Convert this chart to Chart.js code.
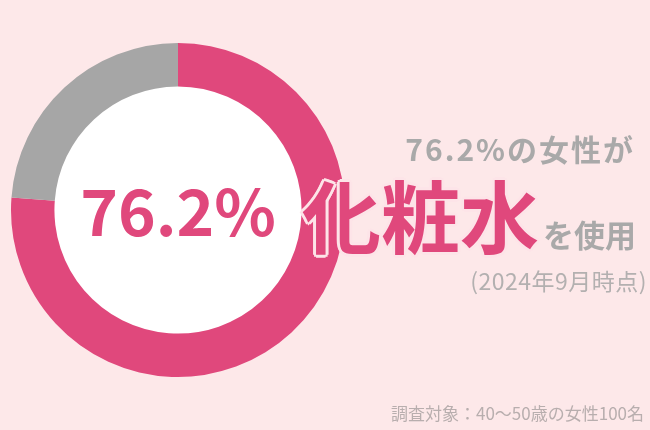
<!DOCTYPE html>
<html><head><meta charset="utf-8">
<script src="https://cdn.jsdelivr.net/npm/chart.js@4"></script>
<style>
html,body{margin:0;padding:0;background:#fde8e9;}
#wrap{position:relative;width:650px;height:430px;overflow:hidden;background:#fde8e9;font-family:"Noto Sans CJK JP","Noto Sans",sans-serif;}
canvas{position:absolute;left:0;top:0;}
.t{position:absolute;white-space:nowrap;}
#center{left:0;width:356px;top:164px;text-align:center;font-weight:700;font-size:64px;line-height:88px;color:#e0487c;}
#l1{right:15px;top:126px;font-weight:700;font-size:30px;line-height:44px;color:#a9a9a9;letter-spacing:2px;}
#l2{left:302px;top:160px;font-weight:700;font-size:79px;line-height:108px;color:#e0487c;
 text-shadow:3px 0 0 #fde4e8,-3px 0 0 #fde4e8,0 3px 0 #fde4e8,0 -3px 0 #fde4e8,2px 2px 0 #fde4e8,-2px 2px 0 #fde4e8,2px -2px 0 #fde4e8,-2px -2px 0 #fde4e8;}
#l3{right:14px;top:211px;font-weight:700;font-size:31px;line-height:46px;color:#a9a9a9;}
#l4{right:3px;top:263px;font-weight:400;font-size:23px;line-height:34px;color:#b3b0b0;letter-spacing:0.5px;}
#foot{right:6px;top:400px;font-weight:400;font-size:17px;line-height:26px;color:#b8aeae;}
</style></head>
<body><div id="wrap">
<canvas id="c" width="650" height="430"></canvas>
<div class="t" id="center"></div>
<div class="t" id="l1">76.2%の女性が</div>
<div class="t" id="l2">化粧水</div>
<div class="t" id="l3">を使用</div>
<div class="t" id="l4">(2024年9月時点)</div>
<div class="t" id="foot">調査対象：40〜50歳の女性100名</div>
</div>
<script>
const categories = ["使用している", "使用していない"];
const values = [76.2, 23.8];
const colors = ["#e0487c", "#a6a6a6"];
document.getElementById('center').textContent = values[0] + '%';

const innerFill = {
  id: 'innerFill',
  beforeDatasetsDraw(chart) {
    const arc = chart.getDatasetMeta(0).data[0];
    if (!arc) return;
    const ctx = chart.ctx;
    ctx.save();
    ctx.beginPath();
    ctx.arc(arc.x, arc.y, arc.innerRadius + 0.5, 0, Math.PI * 2);
    ctx.fillStyle = '#ffffff';
    ctx.fill();
    ctx.restore();
  }
};

new Chart(document.getElementById('c'), {
  type: 'doughnut',
  data: {
    labels: categories,
    datasets: [{ data: values, backgroundColor: colors, borderWidth: 0 }]
  },
  options: {
    responsive: false,
    animation: false,
    cutout: '74%',
    rotation: 0,
    layout: { padding: { left: 11, top: 43, right: 305, bottom: 53 } },
    plugins: { legend: { display: false }, tooltip: { enabled: false } }
  },
  plugins: [innerFill]
});
</script>
</body></html>
